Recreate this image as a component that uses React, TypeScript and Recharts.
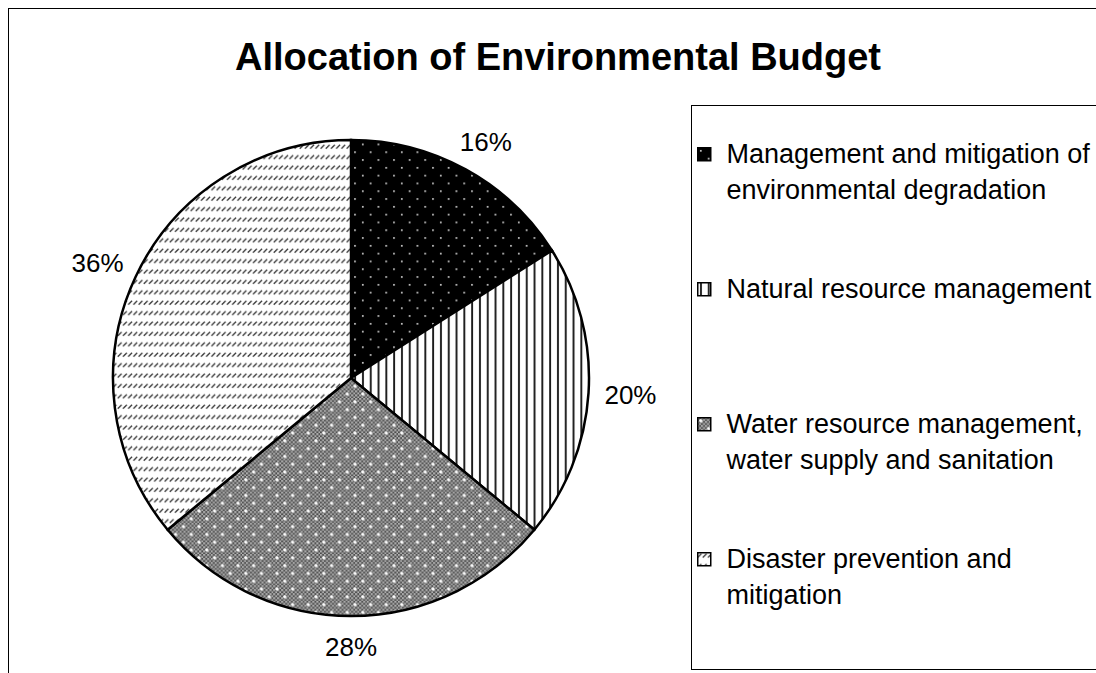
import React from 'react';
import { PieChart, Pie, Cell, Legend } from 'recharts';

// the frame and legend box run past the window edge in the original,
// so drop the body margin and let the page clip them
if (typeof document !== 'undefined') {
  document.documentElement.style.overflow = 'hidden';
  document.body.style.margin = '0';
}

const categories = [
  'Management and mitigation of environmental degradation',
  'Natural resource management',
  'Water resource management, water supply and sanitation',
  'Disaster prevention and mitigation',
];
const shares = [16, 20, 28, 36];
const patternIds = ['pDots', 'pStripes', 'pGrid', 'pDashes'];

const data = categories.map((name, i) => ({ name, value: shares[i] }));

const FONT = '"Liberation Sans", Arial, Helvetica, sans-serif';
const RAD = Math.PI / 180;

const renderLabel = (props: any) => {
  const { cx, cy, midAngle, outerRadius, value } = props;
  const x = cx + (outerRadius + 42) * Math.cos(-midAngle * RAD);
  const y = cy + (outerRadius + 31) * Math.sin(-midAngle * RAD);
  return (
    <text x={x} y={y} textAnchor="middle" dominantBaseline="central" fontSize={26} fontFamily={FONT} fill="#000">
      {value}%
    </text>
  );
};

// keep the series order (recharts sorts the payload by name otherwise)
const renderLegend = () => (
  <div
    style={{
      width: 420,
      height: 565,
      border: '1.5px solid #000',
      boxSizing: 'border-box',
      paddingTop: 30,
      paddingLeft: 4.5,
      background: '#fff',
    }}
  >
    {categories.map((name, i) => (
      <div key={name} style={{ display: 'flex', height: 135 }}>
        <svg width={15} height={15} style={{ marginTop: 11, marginRight: 15, flex: 'none' }}>
          <rect x={0.75} y={0.75} width={13} height={13} fill={`url(#${patternIds[i]})`} stroke="#000" strokeWidth={1.5} />
        </svg>
        <div style={{ width: 380, fontSize: 27, lineHeight: '36px', fontFamily: FONT, color: '#000' }}>{name}</div>
      </div>
    ))}
  </div>
);

export default function App() {
  return (
    <div style={{ position: 'relative', width: 1096, height: 673, overflow: 'hidden' }}>
      <div style={{ position: 'absolute', left: 8, top: 8, width: 1100, height: 700 }}>
        <div
          style={{
            position: 'absolute',
            left: 0,
            top: 0,
            width: 1100,
            height: 700,
            borderTop: '1.5px solid #000',
            borderLeft: '1.5px solid #000',
            boxSizing: 'border-box',
          }}
        />
        <div
          style={{
            position: 'absolute',
            left: 0,
            top: 30,
            width: 1100,
            textAlign: 'center',
            fontFamily: FONT,
            fontWeight: 'bold',
            fontSize: 38,
            lineHeight: '38px',
            color: '#000',
          }}
        >
          Allocation of Environmental Budget
        </div>
        <div style={{ position: 'absolute', left: 0, top: 0 }}>
          <PieChart width={1100} height={665} margin={{ top: 0, right: 0, bottom: 0, left: 0 }}>
            <defs>
              <pattern id="pDots" patternUnits="userSpaceOnUse" width={15.6} height={15.6}>
                <rect width={15.6} height={15.6} fill="#000" />
                <rect x={3} y={3} width={1.6} height={1.6} fill="#e6e6e6" />
                <rect x={10.8} y={10.8} width={1.6} height={1.6} fill="#e6e6e6" />
              </pattern>
              <pattern id="pStripes" patternUnits="userSpaceOnUse" width={7.8} height={7.8}>
                <rect width={7.8} height={7.8} fill="#fff" />
                <rect x={3} y={0} width={1.9} height={7.8} fill="#1a1a1a" />
              </pattern>
              <pattern id="pChecker" patternUnits="userSpaceOnUse" width={4} height={4}>
                <rect width={4} height={4} fill="#4a4a4a" />
                <rect x={0} y={0} width={2} height={2} fill="#b4b4b4" />
                <rect x={2} y={2} width={2} height={2} fill="#b4b4b4" />
              </pattern>
              <pattern id="pGrid" patternUnits="userSpaceOnUse" width={15.6} height={15.6}>
                <rect width={15.6} height={15.6} fill="url(#pChecker)" />
                <rect x={2.2} y={3} width={3.2} height={1.6} fill="#fff" />
                <rect x={3} y={2.2} width={1.6} height={3.2} fill="#fff" />
                <rect x={10} y={10.8} width={3.2} height={1.6} fill="#fff" />
                <rect x={10.8} y={10} width={1.6} height={3.2} fill="#fff" />
              </pattern>
              <pattern id="pDashes" patternUnits="userSpaceOnUse" width={5.2} height={10.4}>
                <rect width={5.2} height={10.4} fill="#fff" />
                <line x1={0.6} y1={5.4} x2={4.4} y2={1.6} stroke="#3a3a3a" strokeWidth={1.4} />
              </pattern>
            </defs>
            <Pie
              data={data}
              dataKey="value"
              nameKey="name"
              cx={343}
              cy={370}
              outerRadius={238}
              startAngle={90}
              endAngle={-270}
              stroke="#000"
              strokeWidth={2.5}
              label={renderLabel}
              labelLine={false}
              isAnimationActive={false}
            >
              {data.map((d, i) => (
                <Cell key={d.name} fill={`url(#${patternIds[i]})`} />
              ))}
            </Pie>
            <Legend
              content={renderLegend}
              wrapperStyle={{ position: 'absolute', left: 683, top: 97, width: 420, height: 565 }}
            />
          </PieChart>
        </div>
      </div>
    </div>
  );
}
